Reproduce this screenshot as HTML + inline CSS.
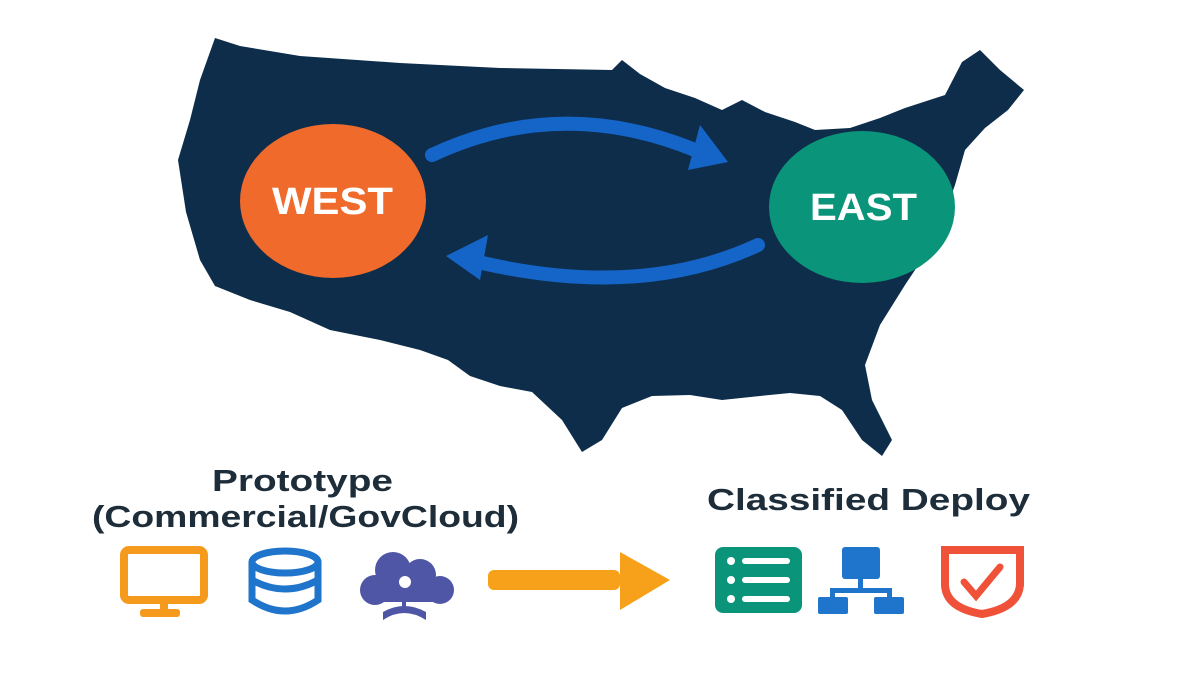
<!DOCTYPE html>
<html><head><style>
body{margin:0;width:1200px;height:675px;background:#fff;overflow:hidden}
svg{display:block}
</style></head><body>
<svg width="1200" height="675" viewBox="0 0 1200 675" xmlns="http://www.w3.org/2000/svg">
<path fill="#0d2d4a" d="M215,38 L240,46 L300,56 L400,63 L500,68 L612,70 L622,60 L640,74 L665,88 L695,98 L722,110 L742,100 L765,112 L795,122 L815,130 L850,128 L880,118 L905,108 L945,95 L962,62 L980,50 L1000,70 L1024,90 L1008,110 L985,128 L965,150 L955,185 L935,240 L905,285 L880,325 L865,365 L872,400 L892,440 L882,456 L862,440 L842,410 L820,396 L790,393 L760,396 L722,400 L690,395 L652,396 L622,408 L602,440 L582,452 L562,420 L532,392 L500,386 L470,376 L448,360 L420,350 L380,340 L330,330 L290,312 L250,300 L215,286 L200,260 L186,212 L178,160 L190,120 L200,80 Z"/>
<ellipse cx="333" cy="201" rx="93" ry="77" fill="#f06a2c"/>
<ellipse cx="862" cy="207" rx="93" ry="76" fill="#0a957a"/>
<text x="272" y="214" textLength="121" lengthAdjust="spacingAndGlyphs" font-family="Liberation Sans,sans-serif" font-weight="bold" font-size="38" fill="#fff">WEST</text>
<text x="810" y="220" textLength="107" lengthAdjust="spacingAndGlyphs" font-family="Liberation Sans,sans-serif" font-weight="bold" font-size="38" fill="#fff">EAST</text>
<path d="M432,155 Q560,95 695,150" stroke="#1565c8" stroke-width="14" fill="none" stroke-linecap="round"/>
<polygon points="700,125 728,162 688,170" fill="#1565c8"/>
<path d="M758,245 Q640,300 478,262" stroke="#1565c8" stroke-width="14" fill="none" stroke-linecap="round"/>
<polygon points="488,235 446,256 480,280" fill="#1565c8"/>
<g font-family="Liberation Sans,sans-serif" font-weight="bold" fill="#1e2d3a">
<text x="212" y="491" font-size="31" textLength="181" lengthAdjust="spacingAndGlyphs">Prototype</text>
<text x="92" y="527" font-size="31" textLength="427" lengthAdjust="spacingAndGlyphs">(Commercial/GovCloud)</text>
<text x="707" y="510" font-size="31" textLength="323" lengthAdjust="spacingAndGlyphs">Classified Deploy</text>
</g>
<!-- monitor -->
<rect x="124" y="550" width="80" height="50" rx="5" fill="none" stroke="#f59a1c" stroke-width="8"/>
<rect x="160" y="600" width="8" height="12" fill="#f59a1c"/>
<rect x="140" y="609" width="40" height="8" rx="3" fill="#f59a1c"/>
<!-- db -->
<g fill="none" stroke="#1f74cc" stroke-width="7">
<ellipse cx="285" cy="562" rx="33" ry="11"/>
<path d="M252,562 V600 Q285,622 318,600 V562"/>
<path d="M252,580 Q285,598 318,580"/>
</g>
<!-- cloud -->
<g fill="#4f56a6">
<circle cx="393" cy="570" r="18"/><circle cx="420" cy="575" r="16"/><circle cx="375" cy="590" r="15"/><circle cx="440" cy="590" r="14"/>
<rect x="375" y="580" width="65" height="22"/>
<rect x="402" y="600" width="4" height="12"/>
<path d="M383,612 Q404,600 426,612 L426,620 Q404,606 383,620Z"/>
</g>
<circle cx="405" cy="582" r="6" fill="#fff"/>
<!-- big arrow -->
<rect x="488" y="570" width="132" height="20" rx="6" fill="#f7a11a"/>
<polygon points="620,552 670,580 620,610" fill="#f7a11a"/>
<!-- list -->
<rect x="715" y="547" width="87" height="66" rx="8" fill="#0a957a"/>
<g fill="#fff"><circle cx="731" cy="561" r="4"/><circle cx="731" cy="580" r="4"/><circle cx="731" cy="599" r="4"/>
<rect x="742" y="558" width="48" height="6" rx="3"/><rect x="742" y="577" width="48" height="6" rx="3"/><rect x="742" y="596" width="48" height="6" rx="3"/></g>
<!-- network -->
<g fill="#1f74cc">
<rect x="842" y="547" width="38" height="32" rx="3"/>
<rect x="858" y="579" width="5" height="10"/>
<rect x="830" y="588" width="62" height="5"/>
<rect x="830" y="588" width="5" height="10"/><rect x="887" y="588" width="5" height="10"/>
<rect x="818" y="597" width="30" height="17" rx="2"/><rect x="874" y="597" width="30" height="17" rx="2"/>
</g>
<!-- shield -->
<path d="M945,550 H1020 V585 Q1018,608 982,614 Q946,608 945,585 Z" fill="none" stroke="#ef5238" stroke-width="8"/>
<path d="M964,582 L976,596 L1000,567" fill="none" stroke="#ef5238" stroke-width="7" stroke-linecap="round"/>
</svg>
</body></html>
